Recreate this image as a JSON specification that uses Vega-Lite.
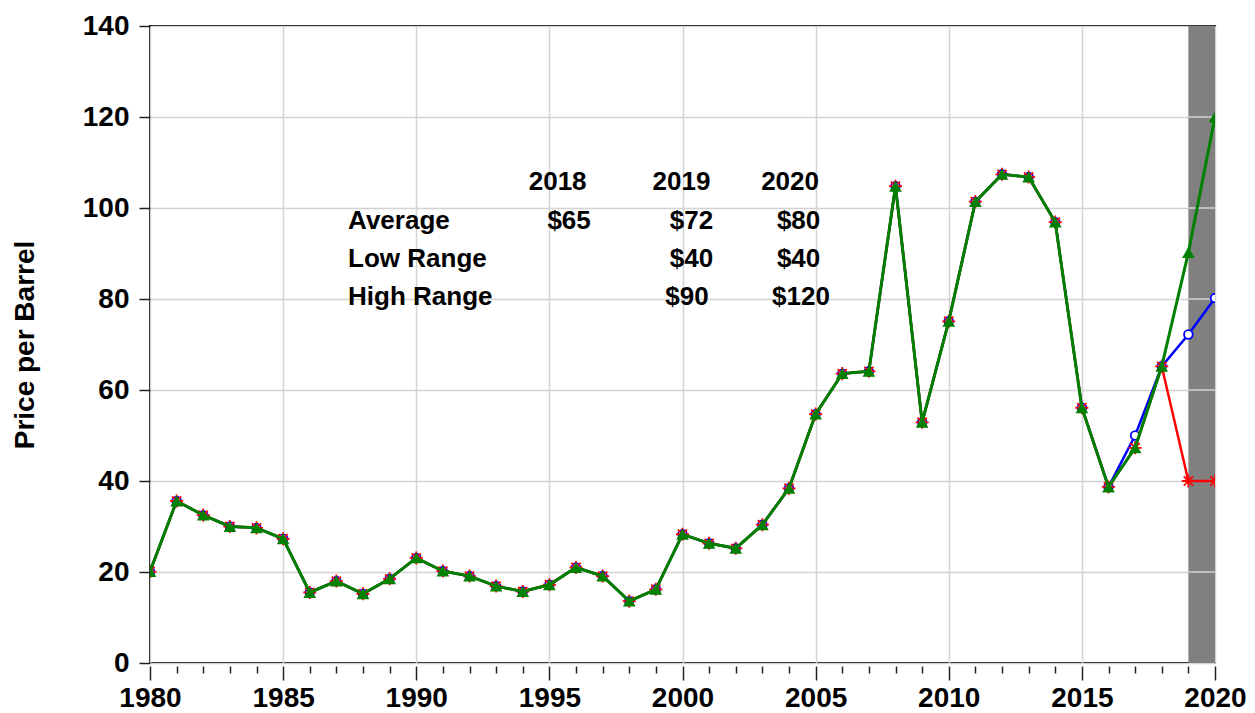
{
  "$schema": "https://vega.github.io/schema/vega-lite/v6.json",
  "width": 1065,
  "height": 637,
  "autosize": {"type": "none"},
  "padding": {"left": 150, "top": 26, "right": 40, "bottom": 50},
  "background": "white",
  "config": {"view": {"stroke": "black", "strokeWidth": 2}, "font": "Liberation Sans"},
  "datasets": {
    "prices": [
      {"year": 1980, "avg": 20.1, "low": 20.1, "high": 20.1},
      {"year": 1981, "avg": 35.6, "low": 35.6, "high": 35.6},
      {"year": 1982, "avg": 32.5, "low": 32.5, "high": 32.5},
      {"year": 1983, "avg": 30.0, "low": 30.0, "high": 30.0},
      {"year": 1984, "avg": 29.7, "low": 29.7, "high": 29.7},
      {"year": 1985, "avg": 27.3, "low": 27.3, "high": 27.3},
      {"year": 1986, "avg": 15.5, "low": 15.5, "high": 15.5},
      {"year": 1987, "avg": 18.0, "low": 18.0, "high": 18.0},
      {"year": 1988, "avg": 15.2, "low": 15.2, "high": 15.2},
      {"year": 1989, "avg": 18.5, "low": 18.5, "high": 18.5},
      {"year": 1990, "avg": 23.1, "low": 23.1, "high": 23.1},
      {"year": 1991, "avg": 20.2, "low": 20.2, "high": 20.2},
      {"year": 1992, "avg": 19.1, "low": 19.1, "high": 19.1},
      {"year": 1993, "avg": 16.9, "low": 16.9, "high": 16.9},
      {"year": 1994, "avg": 15.7, "low": 15.7, "high": 15.7},
      {"year": 1995, "avg": 17.2, "low": 17.2, "high": 17.2},
      {"year": 1996, "avg": 21.0, "low": 21.0, "high": 21.0},
      {"year": 1997, "avg": 19.1, "low": 19.1, "high": 19.1},
      {"year": 1998, "avg": 13.6, "low": 13.6, "high": 13.6},
      {"year": 1999, "avg": 16.2, "low": 16.2, "high": 16.2},
      {"year": 2000, "avg": 28.3, "low": 28.3, "high": 28.3},
      {"year": 2001, "avg": 26.3, "low": 26.3, "high": 26.3},
      {"year": 2002, "avg": 25.2, "low": 25.2, "high": 25.2},
      {"year": 2003, "avg": 30.4, "low": 30.4, "high": 30.4},
      {"year": 2004, "avg": 38.4, "low": 38.4, "high": 38.4},
      {"year": 2005, "avg": 54.7, "low": 54.7, "high": 54.7},
      {"year": 2006, "avg": 63.6, "low": 63.6, "high": 63.6},
      {"year": 2007, "avg": 64.1, "low": 64.1, "high": 64.1},
      {"year": 2008, "avg": 104.8, "low": 104.8, "high": 104.8},
      {"year": 2009, "avg": 52.9, "low": 52.9, "high": 52.9},
      {"year": 2010, "avg": 75.1, "low": 75.1, "high": 75.1},
      {"year": 2011, "avg": 101.4, "low": 101.4, "high": 101.4},
      {"year": 2012, "avg": 107.4, "low": 107.4, "high": 107.4},
      {"year": 2013, "avg": 106.8, "low": 106.8, "high": 106.8},
      {"year": 2014, "avg": 96.9, "low": 96.9, "high": 96.9},
      {"year": 2015, "avg": 56.1, "low": 56.1, "high": 56.1},
      {"year": 2016, "avg": 38.7, "low": 38.7, "high": 38.7},
      {"year": 2017, "avg": 50.0, "low": 47.3, "high": 47.3},
      {"year": 2018, "avg": 65.2, "low": 65.2, "high": 65.2},
      {"year": 2019, "avg": 72.2, "low": 40.0, "high": 90.2},
      {"year": 2020, "avg": 80.2, "low": 40.0, "high": 120.0}
    ],
    "rowlabels": [
      {"label": "Average", "year": 1987.44, "price": 95.49},
      {"label": "Low Range", "year": 1987.44, "price": 87.03},
      {"label": "High Range", "year": 1987.44, "price": 78.68}
    ],
    "cells": [
      {"label": "2018", "year": 1995.31, "price": 103.85},
      {"label": "2019", "year": 1999.96, "price": 103.85},
      {"label": "2020", "year": 2004.04, "price": 103.85},
      {"label": "$65", "year": 1995.74, "price": 95.49},
      {"label": "$72", "year": 2000.34, "price": 95.49},
      {"label": "$80", "year": 2004.36, "price": 95.49},
      {"label": "$40", "year": 2000.34, "price": 87.03},
      {"label": "$40", "year": 2004.36, "price": 87.03},
      {"label": "$90", "year": 2000.17, "price": 78.68},
      {"label": "$120", "year": 2004.45, "price": 78.68}
    ],
    "shade": [{"year": 2019, "end": 2020, "bottom": 0, "top": 140}],
    "hgrid": [
      {"year": 2019, "end": 2020, "g": 20},
      {"year": 2019, "end": 2020, "g": 40},
      {"year": 2019, "end": 2020, "g": 60},
      {"year": 2019, "end": 2020, "g": 80},
      {"year": 2019, "end": 2020, "g": 100},
      {"year": 2019, "end": 2020, "g": 120}
    ]
  },
  "encoding": {
    "x": {
      "field": "year", "type": "quantitative",
      "scale": {"domain": [1980, 2020], "nice": false, "zero": false},
      "axis": {
        "values": [1980,1981,1982,1983,1984,1985,1986,1987,1988,1989,1990,1991,1992,1993,1994,1995,1996,1997,1998,1999,2000,2001,2002,2003,2004,2005,2006,2007,2008,2009,2010,2011,2012,2013,2014,2015,2016,2017,2018,2019,2020],
        "offset": 3,
        "domain": false,
        "grid": true,
        "gridColor": "#d3d3d3",
        "gridWidth": 1.5,
        "gridOpacity": {"condition": {"test": "datum.value % 5 === 0", "value": 1}, "value": 0},
        "tickSize": {"condition": {"test": "datum.value % 5 === 0", "value": 14}, "value": 7},
        "tickColor": "#222222",
        "tickWidth": 1.5,
        "labelExpr": "datum.value % 5 === 0 ? '' + datum.value : ''",
        "labelFont": "Liberation Sans",
        "labelFontSize": 28,
        "labelFontWeight": "bold",
        "labelColor": "black",
        "labelPadding": 4,
        "labelFlush": false,
        "labelOverlap": false,
        "title": null
      }
    }
  },
  "layer": [
    {
      "data": {"name": "shade"},
      "mark": {"type": "rect", "color": "#808080"},
      "encoding": {
        "x2": {"field": "end"},
        "y": {
          "field": "bottom", "type": "quantitative",
          "scale": {"domain": [0, 140], "nice": false, "zero": true},
          "axis": {
            "values": [0, 20, 40, 60, 80, 100, 120, 140],
            "domain": false,
            "grid": true,
            "gridColor": "#d3d3d3",
            "gridWidth": 1.5,
            "tickSize": 11,
            "tickColor": "#222222",
            "tickWidth": 1.5,
            "labelFont": "Liberation Sans",
            "labelFontSize": 28,
            "labelFontWeight": "bold",
            "labelColor": "black",
            "labelPadding": 10,
            "labelFlush": false,
            "title": "Price per Barrel",
            "titleFont": "Liberation Sans",
            "titleFontSize": 28,
            "titleFontWeight": "bold",
            "titleColor": "black",
            "titleAngle": -90,
            "titleAlign": "center",
            "titleBaseline": "alphabetic",
            "titleX": -117,
            "titleY": 318.5
          }
        },
        "y2": {"field": "top"}
      }
    },
    {
      "data": {"name": "hgrid"},
      "mark": {"type": "rule", "color": "#d3d3d3", "strokeWidth": 1.5},
      "encoding": {
        "x2": {"field": "end"},
        "y": {"field": "g", "type": "quantitative"}
      }
    },
    {
      "data": {"name": "prices"},
      "mark": {"type": "line", "color": "#0000ff", "strokeWidth": 2.5, "clip": true},
      "encoding": {"y": {"field": "avg", "type": "quantitative"}}
    },
    {
      "data": {"name": "prices"},
      "mark": {"type": "point", "shape": "circle", "filled": true, "fill": "white", "stroke": "#0000ff", "strokeWidth": 1.8, "size": 75, "opacity": 1, "clip": true},
      "encoding": {"y": {"field": "avg", "type": "quantitative"}}
    },
    {
      "data": {"name": "prices"},
      "mark": {"type": "line", "color": "#ff0000", "strokeWidth": 2.5, "clip": true},
      "encoding": {"y": {"field": "low", "type": "quantitative"}}
    },
    {
      "data": {"name": "prices"},
      "mark": {"type": "point", "shape": "M-1,0L1,0M0,-1L0,1M-0.7,-0.7L0.7,0.7M-0.7,0.7L0.7,-0.7", "filled": false, "stroke": "#ff0000", "strokeWidth": 1.8, "size": 170, "opacity": 1, "clip": true},
      "encoding": {"y": {"field": "low", "type": "quantitative"}}
    },
    {
      "data": {"name": "prices"},
      "mark": {"type": "line", "color": "#008000", "strokeWidth": 3, "clip": true},
      "encoding": {"y": {"field": "high", "type": "quantitative"}}
    },
    {
      "data": {"name": "prices"},
      "mark": {"type": "point", "shape": "triangle-up", "filled": true, "color": "#008000", "size": 160, "opacity": 1, "clip": true},
      "encoding": {"y": {"field": "high", "type": "quantitative"}}
    },
    {
      "data": {"name": "rowlabels"},
      "mark": {"type": "text", "font": "Liberation Sans", "fontSize": 26, "fontWeight": "bold", "align": "left", "baseline": "alphabetic", "color": "black"},
      "encoding": {
        "y": {"field": "price", "type": "quantitative"},
        "text": {"field": "label"}
      }
    },
    {
      "data": {"name": "cells"},
      "mark": {"type": "text", "font": "Liberation Sans", "fontSize": 26, "fontWeight": "bold", "align": "center", "baseline": "alphabetic", "color": "black"},
      "encoding": {
        "y": {"field": "price", "type": "quantitative"},
        "text": {"field": "label"}
      }
    }
  ]
}
